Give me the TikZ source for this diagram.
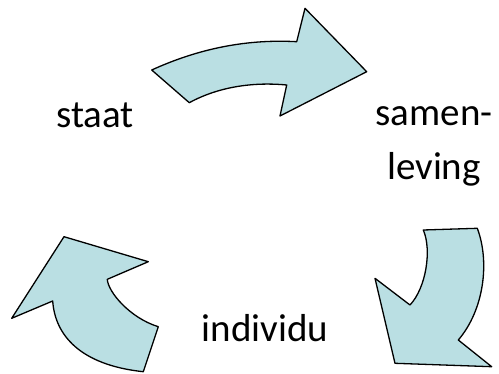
\documentclass[tikz,border=0pt]{standalone}
\usepackage{fontspec}
\setmainfont{Carlito}
\definecolor{arrowfill}{RGB}{186,223,227}
\tikzset{
  cyclearrow/.style={draw=black, fill=arrowfill, line width=1.3pt, line join=round},
  lbl/.style={inner sep=0pt, font=\fontsize{39}{54}\selectfont, anchor=base, align=center}
}
\begin{document}
\begin{tikzpicture}[x=1pt,y=-1pt]
\useasboundingbox (0,0) rectangle (499,374);
% top arrow
\draw[cyclearrow] (151.7,70) .. controls (200,48) and (248,39) .. (296.7,41.7)
  -- (305,8.3) -- (366.7,71.7) -- (280,116) -- (286.7,85)
  .. controls (255,82) and (220,86) .. (189.3,102.7) -- cycle;
% right arrow
\draw[cyclearrow] (423.3,230) -- (477.3,228.3)
  .. controls (490,262) and (484,310) .. (458.3,340)
  -- (491.7,366.7) -- (395,363.3) -- (375,278.3) -- (410,305)
  .. controls (426,288) and (432,250) .. (423.3,230) -- cycle;
% left arrow
\draw[cyclearrow] (158.3,326.7) .. controls (130,318) and (108,292) .. (107.3,279.3)
  -- (148.3,261.7) -- (64,236.7) -- (11.7,318.3) -- (52.7,301)
  .. controls (55,335) and (80,365) .. (143.3,371.7) -- cycle;
\node[lbl] (staat) at (95,128) {staat};
\node[lbl] (samen) at (434,180) {samen-\\leving};
\node[lbl] (individu) at (265,342) {individu};
\end{tikzpicture}
\end{document}
